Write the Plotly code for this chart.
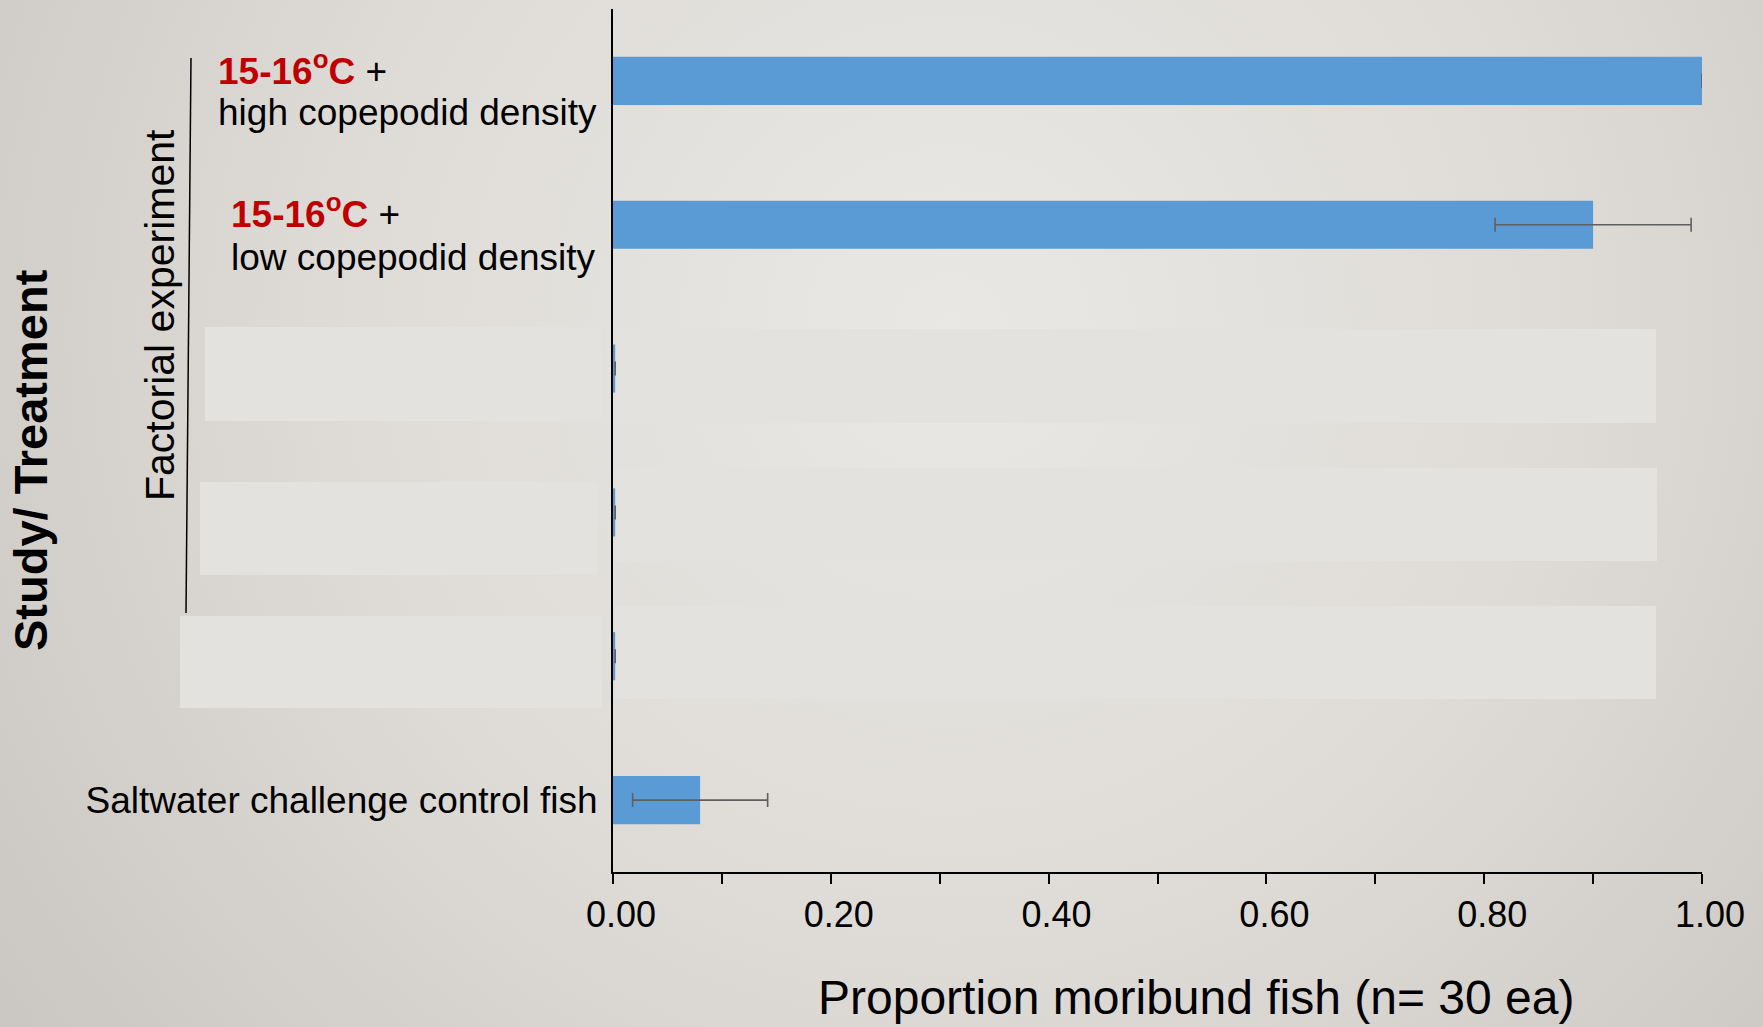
import base64
import plotly.graph_objects as go

# ---------------- data ----------------
categories = [
    "15-16°C + high copepodid density",
    "15-16°C + low copepodid density",
    "Treatment 3",
    "Treatment 4",
    "Treatment 5",
    "Saltwater challenge control fish",
]
values = [1.00, 0.90, 0.002, 0.002, 0.002, 0.08]
errors = [None, 0.09, None, None, None, 0.062]
y_tick_labels = ["", "", "", "", "", "Saltwater challenge control fish"]
x_tick_vals = [0.0, 0.2, 0.4, 0.6, 0.8, 1.0]
x_tick_text = ["0.00", "0.20", "0.40", "0.60", "0.80", "1.00"]
label_lines = [
    ('<span style="color:#c00000"><b>15-16<sup>o</sup>C</b></span> +', "high copepodid density"),
    ('<span style="color:#c00000"><b>15-16<sup>o</sup>C</b></span> +', "low copepodid density"),
]

# ---------------- geometry ----------------
W, H = 1763, 1027
L, R, T, B = 613, 61, 9, 155
PW, PH = W - L - R, H - T - B
FONT = "Liberation Sans, Arial, sans-serif"


def px(x):
    return (x - L) / PW


def py(y):
    return (H - B - y) / PH


fig = go.Figure()
fig.add_trace(go.Bar(
    x=values, y=categories, orientation="h",
    marker=dict(color="#5b9bd5", line=dict(width=0)),
    width=0.335,
    error_x=dict(type="data", array=errors, visible=True,
                 color="#5f5f5f", thickness=1.6, width=7),
    showlegend=False,
))

# background radial gradient (svg data URI)
svg = (
    f'<svg xmlns="http://www.w3.org/2000/svg" width="{W}" height="{H}">'
    '<defs><radialGradient id="g" cx="950" cy="330" r="1150" '
    'gradientUnits="userSpaceOnUse">'
    '<stop offset="0" stop-color="#e9e8e4"/>'
    '<stop offset="0.55" stop-color="#dedbd7"/>'
    '<stop offset="1" stop-color="#cbc7c2"/>'
    '</radialGradient></defs>'
    f'<rect width="{W}" height="{H}" fill="url(#g)"/></svg>'
)
uri = "data:image/svg+xml;base64," + base64.b64encode(svg.encode()).decode()
fig.add_layout_image(dict(
    source=uri, xref="paper", yref="paper",
    x=px(0), y=py(0), sizex=W / PW, sizey=H / PH,
    sizing="stretch", layer="below", xanchor="left", yanchor="top",
))

# light cover rectangles
rect_color = "#e4e2df"
for (x0, x1, y0, y1) in [
    (205, 602, 327, 421), (200, 597, 482, 575), (180, 602, 616, 708),
    (615, 1656, 329, 423), (615, 1657, 468, 561), (615, 1656, 606, 699),
]:
    fig.add_shape(type="rect", xref="paper", yref="paper",
                  x0=px(x0), x1=px(x1), y0=py(y1), y1=py(y0),
                  fillcolor=rect_color, line=dict(width=0), layer="below")

# bracket line for factorial experiment
fig.add_shape(type="line", xref="paper", yref="paper",
              x0=px(191), y0=py(58), x1=px(186), y1=py(613),
              line=dict(color="black", width=1.5))

# category labels (two lines, left aligned)
for cat, (l1, l2), xpix, s1, s2 in [
    (categories[0], label_lines[0], 216, 12, -32),
    (categories[1], label_lines[1], 229, 13, -33),
]:
    for txt, ys in [(l1, s1), (l2, s2)]:
        fig.add_annotation(xref="paper", yref="y", x=px(xpix), y=cat,
                           xanchor="left", yanchor="middle", align="left",
                           yshift=ys, text=txt, showarrow=False,
                           font=dict(family=FONT, size=37, color="black"))

# group labels
fig.add_annotation(xref="paper", yref="paper", x=px(160), y=py(315),
                   text="Factorial experiment", textangle=-90, showarrow=False,
                   xanchor="center", yanchor="middle",
                   font=dict(family=FONT, size=41, color="black"))
fig.add_annotation(xref="paper", yref="paper", x=px(30), y=py(460),
                   text="<b>Study/ Treatment</b>", textangle=-90, showarrow=False,
                   xanchor="center", yanchor="middle",
                   font=dict(family=FONT, size=47, color="black"))
# x axis title
fig.add_annotation(xref="paper", yref="paper", x=px(1196), y=py(998),
                   text="Proportion moribund fish (n= 30 ea)", showarrow=False,
                   xanchor="center", yanchor="middle",
                   font=dict(family=FONT, size=48, color="black"))

fig.update_xaxes(
    range=[0, 1.0], tickvals=x_tick_vals, ticktext=x_tick_text,
    ticks="outside", ticklen=10, tickwidth=1.5, tickcolor="black",
    minor=dict(dtick=0.1, tick0=0, ticks="outside", ticklen=10,
               tickwidth=1.5, tickcolor="black", showgrid=False),
    showline=True, linecolor="black", linewidth=2,
    showgrid=False, zeroline=False,
    tickfont=dict(family=FONT, size=36, color="black"),
    ticklabelshift=8,
)
fig.update_yaxes(
    type="category", categoryorder="array", categoryarray=categories,
    range=[5.5, -0.5], tickvals=categories, ticktext=y_tick_labels,
    ticks="", showline=True, linecolor="black", linewidth=2,
    showgrid=False, zeroline=False, ticklabelstandoff=6,
    tickfont=dict(family=FONT, size=37, color="black"),
)
fig.update_layout(
    width=W, height=H, autosize=False,
    margin=dict(l=L, r=R, t=T, b=B, pad=0),
    paper_bgcolor="#dcd9d5", plot_bgcolor="rgba(0,0,0,0)",
    font=dict(family=FONT, color="black"),
    bargap=0.6,
)
fig.write_html(
    "out.html",
    config={"displayModeBar": False},
    post_script="document.body.style.margin='0';document.body.style.padding='0';",
)
